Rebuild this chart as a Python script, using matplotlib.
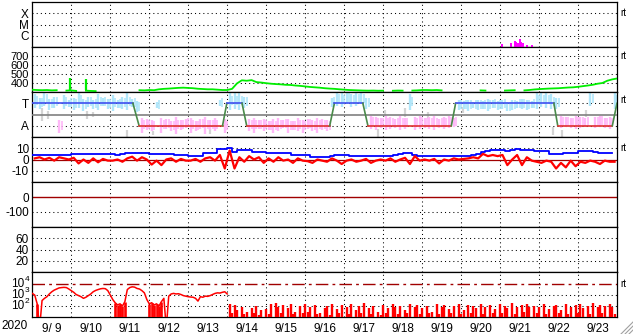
import numpy as np
import matplotlib.pyplot as plt
from matplotlib.lines import Line2D
import matplotlib.transforms as mtrans

plt.rcParams['font.family'] = ['Liberation Sans', 'DejaVu Sans']

# x axis: days since 2020-09-09 00:00
day_labels = ['9/ 9', '9/10', '9/11', '9/12', '9/13', '9/14', '9/15', '9/16',
              '9/17', '9/18', '9/19', '9/20', '9/21', '9/22', '9/23']

# X-ray flares (0 = below C, 1 = C, 2 = M, 3 = X)
xray_days = [12.04, 12.29, 12.38, 12.42, 12.46, 12.50, 12.55, 12.59, 12.68, 12.81]
xray_level = [0.24, 0.33, 0.56, 0.47, 0.38, 0.71, 0.47, 0.33, 0.20, 0.18]

# solar wind speed, 3-hourly (km/s)
speed_3h = [325, 322, 320, 322, 318, 320, np.nan, 316,
            318, 312, np.nan, 315, 312, 310, np.nan, np.nan,
            np.nan, np.nan, np.nan, np.nan, np.nan, np.nan, 320, 318,
            322, 320, 330, 335, 338, 342, 346, 348,
            345, 342, 336, 333, 330, 330, 326, 322,
            322, 335, 395, 430, 425, 432, 410, 405,
            398, 392, 388, 385, 380, 378, 372, 368,
            362, 356, 352, 348, 342, 338, 335, 330,
            326, 322, 320, 318, 316, 315, 316, 314,
            315, np.nan, 314, 316, 315, np.nan, 316, 318,
            322, 322, 320, 322, 318, np.nan, np.nan, np.nan,
            np.nan, np.nan, 312, np.nan, 318, 316, np.nan, 318,
            np.nan, 316, 318, 320, np.nan, 318, 322, 328,
            332, 335, 338, 340, 342, 346, 350, 352,
            358, 365, 372, 380, 392, 400, 425, 440, 450]
spike_days = [0.97, 1.38]
spike_speed = [459, 444]

# IMF sector (3 = T, 1 = A)
sector_days = [0, 2.58, 2.74, 4.88, 4.99, 5.38, 5.50, 7.63, 7.75, 8.48, 8.61,
               10.75, 10.86, 13.38, 13.48, 14.88, 15.0]
sector_level = [3, 3, 1, 1, 3, 3, 1, 1, 3, 3, 1, 1, 3, 3, 1, 1, 3]

# IMF direction spread, 3-hourly (same units)
phi_hi = [3.8, 3.5, 3.9, 3.4, 3.6, 1.5, 3.7, 3.3,
          3.5, 3.9, 3.4, 3.6, 3.3, 3.8, 3.5, 3.4,
          3.7, 3.3, 3.6, 3.9, 3.4, 3.2, 1.7, 1.6,
          1.5, 3.1, 1.7, 1.6, 1.4, 1.8, 1.5, 1.6,
          1.7, 1.4, 1.6, 1.8, 1.5, 1.7, 3.3, 1.6,
          4.0, 3.9, 4.0, 3.6, 1.6, 1.7, 1.5, 1.6,
          1.4, 1.6, 1.7, 1.5, 1.6, 1.4, 1.7, 1.5,
          1.6, 1.5, 1.7, 1.6, 1.5, 3.5, 4.0, 3.9,
          4.0, 3.8, 4.0, 3.9, 3.5, 1.9, 1.8, 1.7,
          1.9, 1.8, 1.6, 1.9, 1.7, 3.8, 1.8, 1.9,
          1.7, 1.8, 1.9, 1.6, 1.8, 1.9, 1.7, 3.3,
          3.2, 3.3, 3.1, 3.3, 3.2, 3.4, 3.3, 3.2,
          3.3, 3.1, 3.3, 3.2, 3.4, 3.3, 3.2, 4.0,
          3.9, 4.0, 3.8, 3.5, 1.9, 1.8, 1.7, 1.9,
          1.8, 1.7, 3.9, 1.8, 1.9, 1.7, 1.8, 4.0]
phi_lo = [2.6, 2.5, 2.8, 2.4, 2.6, 0.4, 2.5, 2.7,
          2.4, 2.6, 2.3, 2.7, 2.5, 2.4, 2.8, 2.5,
          2.3, 2.6, 2.5, 2.4, 2.7, 2.2, 0.4, 0.6,
          0.5, 2.6, 0.4, 0.7, 0.5, 0.3, 0.6, 0.8,
          0.4, 0.5, 0.7, 0.3, 0.6, 0.5, 2.8, 0.4,
          2.4, 2.5, 2.4, 2.6, 0.5, 0.4, 0.7, 0.5,
          0.6, 0.4, 0.5, 0.8, 0.4, 0.6, 0.5, 0.4,
          0.7, 0.5, 0.4, 0.6, 0.5, 2.7, 2.8, 2.7,
          2.9, 2.7, 2.8, 2.9, 2.5, 0.7, 0.6, 0.8,
          0.6, 0.7, 0.8, 0.6, 0.7, 2.4, 0.6, 0.7,
          0.8, 0.7, 0.6, 0.8, 0.7, 0.8, 0.9, 2.4,
          2.5, 2.3, 2.6, 2.4, 2.5, 2.3, 2.6, 2.4,
          2.5, 2.3, 2.4, 2.6, 2.5, 2.4, 2.6, 2.5,
          2.7, 2.6, 2.5, 2.5, 0.8, 0.9, 0.8, 0.7,
          0.8, 0.9, 2.8, 0.8, 0.9, 0.8, 0.7, 2.5]
gray_days = [0.25, 0.40, 1.40, 1.55, 2.43, 3.10, 4.55, 8.87, 9.04, 9.55,
             10.15, 11.04, 13.35, 13.60, 14.20]
gray_lo = [1.4, 1.6, 1.6, 1.8, 0.0, 0.2, 0.3, 0.0, 1.8, 1.8,
           1.6, 2.1, 0.2, 0.0, 1.8]
gray_hi = [2.6, 2.3, 2.3, 2.2, 0.6, 0.5, 0.7, 0.7, 2.4, 2.6,
           2.2, 2.7, 0.9, 0.6, 2.4]

# IMF Bt and Bz, 3-hourly (nT)
bt_3h = [4, 4, 4.2, 4, 4, 3.8, 4, 4.2,
         5, 5, 5.2, 5, 4.8, 4.6, 4.5, 4.5,
         4.5, 4.3, 4.5, 5.5, 6, 6, 6.2, 6,
         5, 5, 5, 4.8, 4.5, 4, 4, 3.8,
         3, 3, 3, 5.5, 5.5, 6, 9, 9,
         10, 7, 8.6, 8.6, 8.4, 6.5, 6.5, 6.5,
         6, 5.6, 5.6, 5.5, 5.6, 4, 4, 4,
         4, 2.5, 2.5, 2.5, 2.5, 3.5, 4, 4,
         4, 3.5, 3.5, 3, 3, 3.2, 3, 3,
         3, 3.5, 4, 5, 6, 5.5, 4, 3.5,
         3.5, 3.5, 3, 3.5, 3.5, 3, 2.8, 3,
         3.5, 3.5, 4, 5, 6.5, 8, 8.6, 8.6,
         8.6, 8, 8.6, 9, 8.6, 8.2, 8.6, 8,
         8, 7.5, 5, 5, 5, 5.5, 5.5, 6,
         8, 8, 8, 6.5, 6, 6, 6, 6]
bz_3h = [1, 2, 0, 1.5, -1, 2, 1, 0,
         1.5, -3.5, 0, -3, 1, -2.5, 0.5, -1,
         -1, 0, -2, 1, 2.5, -1, 2, 0,
         -4.5, -1, -5, 0, 1, -2, 0.5, -1,
         -1, 0.5, -2, 1, 2, -1, 4, -8,
         8, -8, 2, -2, 3, 0, 2, -3,
         1, -2, 2, -1, 0, -3, 1, -1,
         -1.5, -3, 0, -1, -2, 1, -1, -4,
         -1, 0, -2, -1, 0.5, -3, -1, 0,
         -1, 1, -2, 0, 1.5, -4, 3, -1,
         0, -1, 0.5, -3.5, 0, -1, 1, 0,
         0.5, 1, 2, 1, 5, 3, 4, 3,
         4, -5, 0, 4, -5, 2, -1, -2,
         -3, -1, -2, -8, -3, -7, -1, -6,
         -2, -3, -1, -2, -4, -1, -2, -2]

# particle flux, log10, 1.5-hourly (0 = off scale)
flux_log = [3.15, 3.0, 2.2, 0, 2.5, 2.7, 2.85, 3.1, 3.3, 3.45, 3.55, 3.65, 3.68, 3.7, 3.68, 3.55,
            3.4, 3.25, 3.05, 2.95, 2.85, 2.7, 2.8, 2.95, 3.1, 3.3, 3.42, 3.5, 3.57, 3.6, 3.58, 3.4,
            3.0, 2.6, 2.3, 2.1, 2.2, 2.0, 2.4, 3.5, 3.68, 3.75, 3.72, 3.6, 3.55, 3.4, 3.2, 2.6,
            2.2, 2.3, 2.1, 2.2, 2.0, 2.4, 2.7, 0, 2.9, 3.1, 3.15, 3.1, 3.12, 3.05, 2.95, 2.9,
            2.85, 2.82, 2.8, 2.7, 2.45, 2.85, 2.8, 2.9, 2.88, 2.95, 3.05, 3.15, 3.2, 3.18, 3.25, 3.3,
            3.1, 2.2, 1.4, 2.1, 1.6, 0, 1.9, 1.3, 1.5, 0, 1.8, 1.4, 2.0, 1.2, 1.6, 0,
            1.7, 1.3, 2.2, 0, 2.3, 1.9, 1.4, 2.1, 0, 1.8, 2.2, 1.3, 1.5, 0, 2.0, 1.4,
            2.2, 1.5, 1.9, 0, 2.1, 1.3, 1.4, 0, 1.8, 2.0, 1.2, 2.2, 0, 1.7, 1.4, 2.1,
            0, 1.9, 1.3, 2.2, 0, 1.6, 2.0, 1.4, 2.3, 0, 1.8, 1.3, 2.0, 0, 1.5, 1.2,
            2.1, 1.4, 1.8, 0, 2.2, 1.9, 1.3, 2.0, 0, 1.6, 1.4, 2.2, 0, 1.9, 2.1, 1.3,
            1.8, 0, 2.0, 1.4, 1.5, 0, 2.2, 1.3, 1.9, 2.1, 0, 1.7, 1.4, 2.0, 0, 2.2,
            1.3, 1.6, 0, 2.1, 1.4, 2.0, 1.8, 0, 2.2, 1.3, 1.9, 0, 2.1, 1.4, 1.7, 0,
            2.2, 1.4, 2.0, 1.8, 0, 2.3, 1.3, 1.9, 0, 2.1, 1.5, 2.2, 1.9, 0, 2.0, 1.4,
            1.9, 0, 2.2, 1.3, 1.7, 0, 2.0, 2.1, 1.4, 1.6, 0, 2.2, 1.3, 1.9, 0, 2.1,
            1.4, 2.2, 1.8, 0, 2.0, 1.3, 2.3, 0, 1.9, 2.1, 1.4, 2.0, 0, 2.2, 1.9, 1.3]
flux_exps = [4, 3, 2]

W, H = 633, 334
fig = plt.figure(figsize=(W / 100, H / 100), dpi=100)

FS = 8.5
x0, x1, ytop, ph = 32.3, 617, 2, 45
dot = (0, (1, 3))
axes = []
for k in range(7):
    ax = fig.add_axes([x0 / W, 1 - (ytop + ph * (k + 1)) / H, (x1 - x0) / W, ph / H])
    ax.set_xlim(0, 15)
    for s in ax.spines.values():
        s.set_linewidth(0.9)
    ax.tick_params(length=0, labelsize=FS, pad=2.5)
    ax.set_xticks([])
    for d in range(1, 15):
        ax.axvline(d, color='black', lw=0.75, ls=dot, zorder=1)
    axes.append(ax)

def hdots(ax, levels):
    for v in levels:
        ax.axhline(v, color='black', lw=0.75, ls=dot, zorder=1)

def rt(ax, level):
    tr = mtrans.blended_transform_factory(ax.transAxes, ax.transData)
    ax.text(1.006, level, 'rt', transform=tr, va='center', ha='left', fontsize=7)

# panel 1: X-ray class
ax = axes[0]
ax.set_ylim(0, 4)
ax.set_yticks([3, 2, 1], ['X', 'M', 'C'])
hdots(ax, [1, 2, 3])
ax.vlines(xray_days, 0, xray_level, color='#ff00ff', lw=1.4, zorder=3)
rt(ax, 3)

# panel 2: speed
ax = axes[1]
ax.set_ylim(300, 800)
ax.set_yticks([700, 600, 500, 400], ['700', '600', '500', '400'])
ax.tick_params(axis='y', labelsize=8)
hdots(ax, [400, 500, 600, 700])
t3 = np.arange(len(speed_3h)) / 8
ax.plot(t3, speed_3h, color='#00ee00', lw=1.3, zorder=3)
ax.vlines(spike_days, 318, spike_speed, color='#00ee00', lw=1.6, zorder=3)
rt(ax, 700)

# panel 3: sector
ax = axes[2]
ax.set_ylim(0, 4)
ax.set_yticks([3, 1], ['T', 'A'])
hdots(ax, [1, 3])
tp = np.arange(len(phi_hi)) / 8 + 1 / 16
lo = np.array(phi_lo)
hi = np.array(phi_hi)
cols = np.where(lo > 2, '#b0e6fa', '#ffb8f8')
ax.vlines(gray_days, gray_lo, gray_hi, color='#d4d4d4', lw=1.6, zorder=2)
ax.vlines(tp, lo, hi, colors=cols, lw=1.7, zorder=2)
ax.vlines(tp + 1 / 16, (lo + hi) / 2 - 0.35, (lo + hi) / 2 + 0.45, colors=cols, lw=1.2, zorder=2)
ax.axhline(2, color='#808080', lw=1.2, zorder=3)
for i in range(len(sector_days) - 1):
    a, b = sector_level[i], sector_level[i + 1]
    c = '#4050f0' if a == b == 3 else ('#e03030' if a == b == 1 else '#4a8a4a')
    ax.plot(sector_days[i:i + 2], [a, b], color=c, lw=1.2, zorder=4)
rt(ax, 3.3)

# panel 4: Bt / Bz
ax = axes[3]
ax.set_ylim(-20, 20)
ax.set_yticks([10, 0, -10], ['10', '0', '-10'])
hdots(ax, [10, -10])
ax.axhline(0, color='#a00000', lw=0.9, zorder=2)
ax.step(t3[:len(bt_3h)], bt_3h, where='post', color='#0000ff', lw=1.3, zorder=3)
ax.plot(t3[:len(bz_3h)] + 1 / 16, bz_3h, color='#ff0000', lw=1.6, zorder=4)
rt(ax, 10)

# panel 5: Dst
ax = axes[4]
ax.set_ylim(-200, 100)
ax.set_yticks([0, -100], ['0', '-100'])
hdots(ax, [-100])
ax.axhline(0, color='#a00000', lw=1.0, zorder=2)

# panel 6
ax = axes[5]
ax.set_ylim(0, 80)
ax.set_yticks([60, 40, 20], ['60', '40', '20'])
hdots(ax, [20, 40, 60])

# panel 7: flux
ax = axes[6]
ax.set_yscale('log')
ax.set_ylim(10, 10 ** 5.1)
ax.minorticks_off()
ax.set_yticks([])
tr = mtrans.blended_transform_factory(ax.transAxes, ax.transData)
for e in flux_exps:
    ax.text(-0.0142, 10.0 ** e, '10', transform=tr, ha='right', va='center', fontsize=FS)
    ax.annotate(str(e), (-0.0142, 10.0 ** e), xycoords=tr, xytext=(0.4, 1.0),
                textcoords='offset points', ha='left', va='bottom', fontsize=6)
hdots(ax, [1e2, 1e3])
ax.axhline(1e4, color='#a00000', lw=1.0, ls=(0, (9, 3, 2, 3)), zorder=2)
fl = np.array(flux_log)
flux = 10 ** fl
t15 = np.arange(len(flux_log)) / 16
n_smooth = 81
ax.plot(t15[:n_smooth], flux[:n_smooth], color='#ff0000', lw=1.1, zorder=3)
low = (fl < 2.45) & (t15 < t15[n_smooth])
ax.vlines(t15[low], 1, flux[low], color='#ff0000', lw=1.9, zorder=3)
ax.vlines(t15[n_smooth:], 1, flux[n_smooth:], color='#ff0000', lw=1.7, zorder=3)
ax.set_xticks(np.arange(15) + 0.5, day_labels)
ax.tick_params(axis='x', length=0, pad=4, labelsize=FS)
rt(ax, 1e4)

fig.text(15 / W, 1 - 326 / H, '2020', ha='center', va='center', fontsize=FS)

# window resize grip
for k in (4, 8, 12):
    fig.add_artist(Line2D([(W - k) / W, 1], [0, k / H], color='#a0a0a0', lw=0.8))

fig.savefig('out.png', dpi=100)
